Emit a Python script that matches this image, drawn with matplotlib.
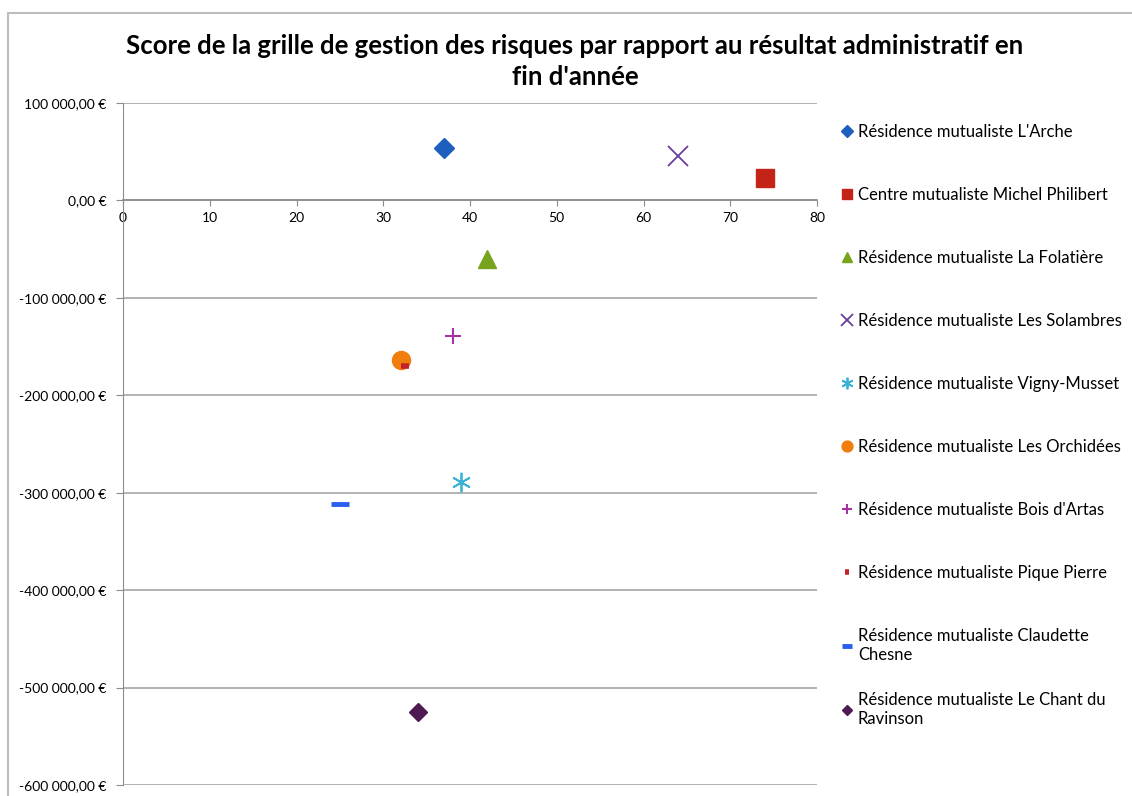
import matplotlib.pyplot as plt
from matplotlib.patches import Rectangle
from matplotlib.ticker import FuncFormatter, MultipleLocator

plt.rcParams['font.family'] = ['Lato', 'DejaVu Sans']

# data
names = [
    "Résidence mutualiste L'Arche",
    "Centre mutualiste Michel Philibert",
    "Résidence mutualiste La Folatière",
    "Résidence mutualiste Les Solambres",
    "Résidence mutualiste Vigny-Musset",
    "Résidence mutualiste Les Orchidées",
    "Résidence mutualiste Bois d'Artas",
    "Résidence mutualiste Pique Pierre",
    "Résidence mutualiste Claudette\nChesne",
    "Résidence mutualiste Le Chant du\nRavinson",
]
scores = [37, 74, 42, 64, 39, 32, 38, 32.5, 25, 34]
results = [54000, 23000, -60000, 46000, -289000, -164000, -139000, -170000, -312000, -525000]

colors = ["#1c5fbf", "#c42417", "#78a31c", "#6a3e9c", "#3cb3d6",
          "#f07d0c", "#a632a6", "#c4202e", "#2a5ef0", "#4e1a52"]
markers = ["D", "s", "^", "x", (6, 2, 0), "o", "+", "_", "_", "D"]
sizes = [10, 13, 13, 14, 14, 13, 12, 6, 13, 9]
edge_w = [1, 1, 1, 1.3, 1.3, 1, 1.5, 4, 3.5, 1]

fig = plt.figure(figsize=(11.32, 7.96), dpi=100)
ax = fig.add_axes([123 / 1132, 1 - 785 / 796, (817 - 123) / 1132, (785 - 103) / 796])

for i in range(len(names)):
    ax.plot(scores[i], results[i], linestyle="none", marker=markers[i],
            markersize=sizes[i], color=colors[i], markeredgewidth=edge_w[i],
            label=names[i])

ax.set_xlim(0, 80)
ax.set_ylim(-600000, 100000)
ax.xaxis.set_major_locator(MultipleLocator(10))
ax.yaxis.set_major_locator(MultipleLocator(100000))


def euro(v, pos):
    s = f"{abs(v):,.2f}".replace(",", " ").replace(".", ",")
    return ("-" if v < 0 else "") + s + " €"


ax.yaxis.set_major_formatter(FuncFormatter(euro))
ax.grid(axis="y", color="#a6a6a6", linewidth=1.2)
ax.set_axisbelow(True)
for side in ["top", "right"]:
    ax.spines[side].set_visible(False)
ax.spines["left"].set_color("#8c8c8c")
ax.spines["bottom"].set_position(("data", 0))
ax.spines["bottom"].set_color("#8c8c8c")
ax.spines["bottom"].set_linewidth(1.2)
ax.tick_params(axis="y", length=5, color="#8c8c8c", labelsize=10, pad=7)
ax.tick_params(axis="x", length=4, color="#8c8c8c", labelsize=10, pad=4)

fig.suptitle("Score de la grille de gestion des risques par rapport au résultat administratif en\nfin d'année",
             x=0.508, y=0.957, fontsize=18.5, fontweight="bold", linespacing=1.33)

# legend in two parts so the last entry keeps Excel's fixed row pitch
handles, labels = ax.get_legend_handles_labels()
leg_opts = dict(loc="upper left", bbox_transform=fig.transFigure, frameon=False,
                fontsize=12, labelspacing=2.82, handlelength=0.6,
                handletextpad=0.35, borderaxespad=0, borderpad=0)
leg1 = ax.legend(handles[:9], labels[:9], bbox_to_anchor=(842 / 1132, 1 - 124 / 796), **leg_opts)
ax.add_artist(leg1)
leg2 = ax.legend(handles[9:], labels[9:], bbox_to_anchor=(842 / 1132, 1 - 692 / 796), **leg_opts)
for leg in (leg1, leg2):
    for h in leg.legend_handles:
        h.set_markersize(h.get_markersize() * 0.6)

# outer chart border (cropped on the right and bottom)
fig.patches.append(Rectangle((8 / 1132, -0.01), 1.02, 1 - 13 / 796 + 0.01,
                             transform=fig.transFigure, fill=False,
                             edgecolor="#bdbdbd", linewidth=1.5))

fig.savefig("out.png", dpi=100)
